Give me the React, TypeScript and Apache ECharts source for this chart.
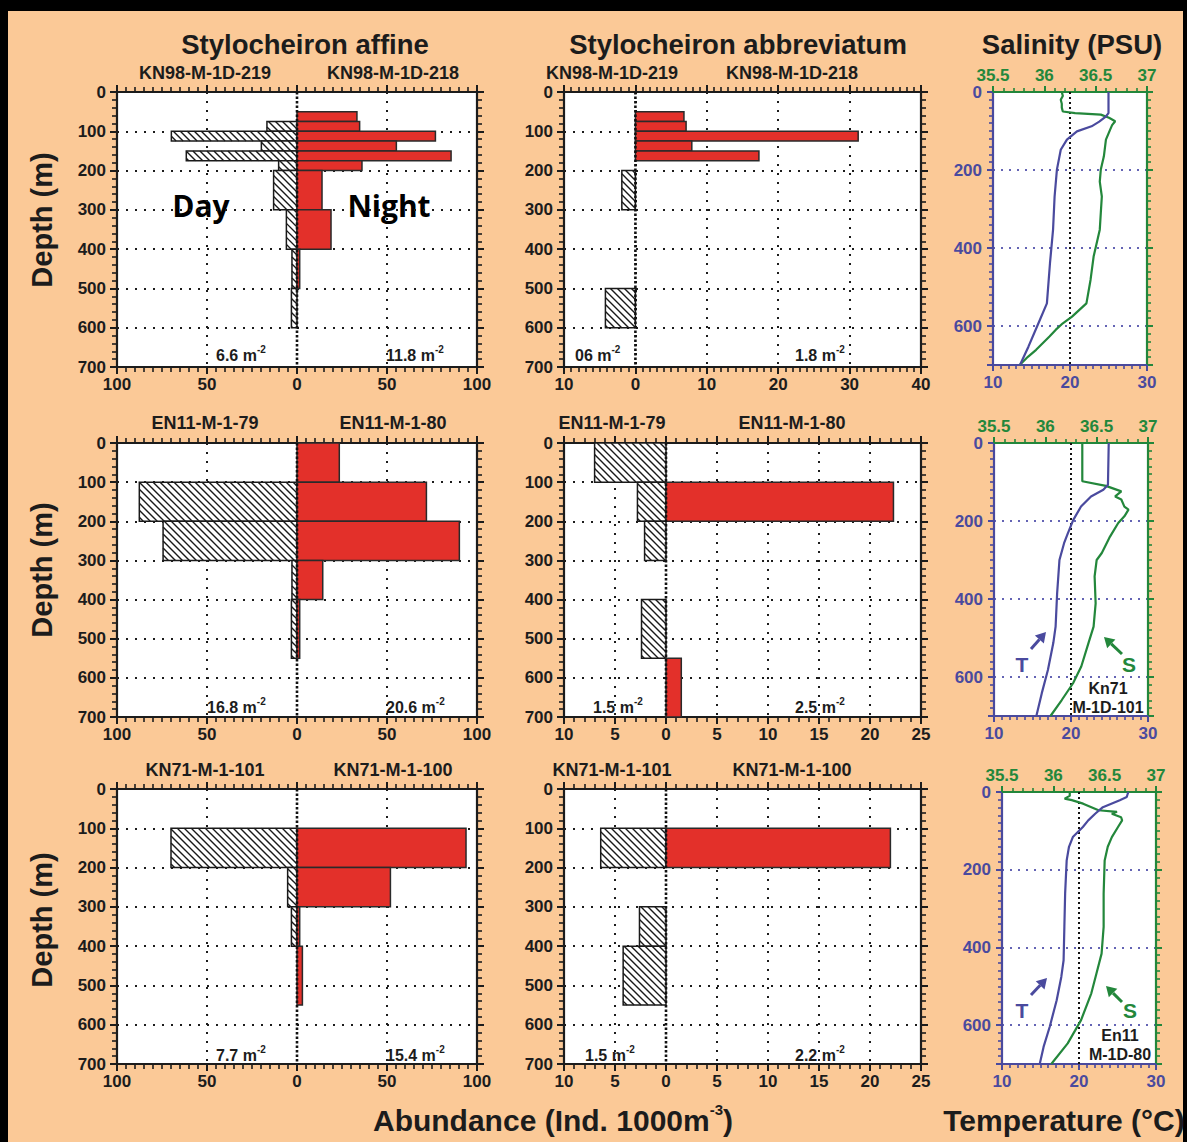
import React, { useEffect, useRef } from 'react';
import * as echarts from 'echarts';

const FONT = 'Liberation Sans, Arial, Helvetica, sans-serif';
const INK = '#1c1c1c';
const RED = '#E3302A';
const BLUE = '#4a4a9e';
const GREEN = '#23873b';
const PEACH = '#FBC997';

type Bin = [number, number, number]; // [top depth, bottom depth, abundance]

// ---------- Abundance data (Ind. 1000 m^-3) ----------
// Stylocheiron affine, KN98 (day 219 / night 218)
const affineKN98Day: Bin[] = [[75, 100, 16.7], [100, 125, 69.8], [125, 150, 19.8], [150, 175, 61.5], [175, 200, 10.2], [200, 300, 13], [300, 400, 5.9], [400, 500, 2.8], [500, 600, 3.1]];
const affineKN98Night: Bin[] = [[50, 75, 33.3], [75, 100, 34.8], [100, 125, 76.9], [125, 150, 55.2], [150, 175, 85.6], [175, 200, 36.1], [200, 300, 13.9], [300, 400, 18.9], [400, 500, 1.5]];
// Stylocheiron abbreviatum, KN98
const abbrevKN98Day: Bin[] = [[200, 300, 1.9], [500, 600, 4.2]];
const abbrevKN98Night: Bin[] = [[50, 75, 6.8], [75, 100, 7.1], [100, 125, 31.2], [125, 150, 7.9], [150, 175, 17.3]];
// Stylocheiron affine, EN11 (day 79 / night 80)
const affineEN11Day: Bin[] = [[100, 200, 87.6], [200, 300, 74.4], [300, 400, 2.8], [400, 550, 3.1]];
const affineEN11Night: Bin[] = [[0, 100, 23.5], [100, 200, 71.9], [200, 300, 90.2], [300, 400, 14.3], [400, 550, 1.5]];
// Stylocheiron abbreviatum, EN11
const abbrevEN11Day: Bin[] = [[0, 100, 7.0], [100, 200, 2.8], [200, 300, 2.1], [400, 550, 2.4]];
const abbrevEN11Night: Bin[] = [[100, 200, 22.3], [550, 700, 1.5]];
// Stylocheiron affine, KN71 (day 101 / night 100)
const affineKN71Day: Bin[] = [[100, 200, 70], [200, 300, 5.2], [300, 400, 3.1]];
const affineKN71Night: Bin[] = [[100, 200, 93.9], [200, 300, 51.9], [300, 400, 1.5], [400, 550, 3.0]];
// Stylocheiron abbreviatum, KN71
const abbrevKN71Day: Bin[] = [[100, 200, 6.4], [300, 400, 2.6], [400, 550, 4.2]];
const abbrevKN71Night: Bin[] = [[100, 200, 22.0]];

// ---------- Hydrography profiles ----------
const kn98TDepth = [0, 54, 64, 76, 88, 101, 122, 148, 199, 268, 353, 439, 542, 593, 653, 700];
const kn98Temp = [25.0, 25.0, 24.6, 23.8, 22.8, 20.9, 19.6, 18.8, 18.3, 18.0, 17.8, 17.4, 17.0, 15.9, 14.6, 13.5];
const kn98SDepth = [0, 10, 20, 30, 40, 50, 54, 58, 66, 75, 85, 97, 122, 165, 199, 230, 268, 310, 353, 422, 482, 542, 576, 593, 610, 627, 661, 679, 700];
const kn98Sal = [36.17, 36.18, 36.16, 36.17, 36.17, 36.18, 36.30, 36.55, 36.63, 36.69, 36.66, 36.64, 36.60, 36.58, 36.55, 36.54, 36.56, 36.55, 36.54, 36.48, 36.45, 36.41, 36.27, 36.18, 36.11, 36.05, 35.92, 35.84, 35.76];

const kn71TDepth = [0, 107, 120, 137, 163, 197, 231, 257, 300, 385, 471, 513, 582, 642, 700];
const kn71Temp = [24.9, 24.8, 24.2, 22.6, 21.3, 20.3, 19.6, 19.1, 18.5, 18.2, 18.0, 17.7, 17.0, 16.2, 15.5];
const kn71SDepth = [0, 98, 110, 124, 137, 145, 163, 171, 188, 205, 240, 282, 300, 342, 411, 471, 513, 573, 616, 659, 700];
const kn71Sal = [36.36, 36.36, 36.59, 36.74, 36.68, 36.74, 36.77, 36.81, 36.77, 36.71, 36.63, 36.55, 36.50, 36.48, 36.49, 36.47, 36.42, 36.35, 36.27, 36.16, 36.05];

const en11TDepth = [0, 13, 21, 39, 56, 73, 90, 116, 141, 176, 261, 347, 433, 476, 536, 604, 656, 700];
const en11Temp = [26.4, 26.2, 25.3, 23.1, 22.1, 21.2, 20.5, 19.2, 18.7, 18.4, 18.2, 18.1, 18.0, 17.7, 17.1, 16.2, 15.4, 14.9];
const en11SDepth = [0, 10, 17, 21, 30, 47, 51, 56, 65, 73, 90, 116, 141, 176, 261, 347, 416, 467, 518, 587, 647, 700];
const en11Sal = [36.16, 36.16, 36.11, 36.18, 36.29, 36.44, 36.62, 36.57, 36.66, 36.67, 36.63, 36.57, 36.53, 36.50, 36.49, 36.49, 36.47, 36.42, 36.37, 36.27, 36.14, 35.98];

const refTemp = 20;
const depthRange = [0, 700];

// ---------- Labels ----------
const speciesTitles = ['Stylocheiron affine', 'Stylocheiron abbreviatum'];
const stationDay = ['KN98-M-1D-219', 'EN11-M-1-79', 'KN71-M-1-101'];
const stationNight = ['KN98-M-1D-218', 'EN11-M-1-80', 'KN71-M-1-100'];
const totalsAffine = [['6.6', '11.8'], ['16.8', '20.6'], ['7.7', '15.4']];
const totalsAbbrev = [['06', '1.8'], ['1.5', '2.5'], ['1.5', '2.2']];

interface BarPanel { grid: any; min: number; max: number; interval: number; minor: number; day: Bin[]; night: Bin[]; }
interface ProfPanel { grid: any; tD: number[]; t: number[]; sD: number[]; s: number[]; }

const barPanels: BarPanel[] = [
  { grid: { left: 117, top: 92, width: 360, height: 275 }, min: -100, max: 100, interval: 50, minor: 10, day: affineKN98Day, night: affineKN98Night },
  { grid: { left: 564, top: 92, width: 357, height: 275 }, min: -10, max: 40, interval: 10, minor: 10, day: abbrevKN98Day, night: abbrevKN98Night },
  { grid: { left: 117, top: 443, width: 360, height: 274 }, min: -100, max: 100, interval: 50, minor: 10, day: affineEN11Day, night: affineEN11Night },
  { grid: { left: 564, top: 443, width: 357, height: 274 }, min: -10, max: 25, interval: 5, minor: 5, day: abbrevEN11Day, night: abbrevEN11Night },
  { grid: { left: 117, top: 789, width: 360, height: 275 }, min: -100, max: 100, interval: 50, minor: 10, day: affineKN71Day, night: affineKN71Night },
  { grid: { left: 564, top: 789, width: 357, height: 275 }, min: -10, max: 25, interval: 5, minor: 5, day: abbrevKN71Day, night: abbrevKN71Night },
];

const profPanels: ProfPanel[] = [
  { grid: { left: 993, top: 92, width: 154, height: 273 }, tD: kn98TDepth, t: kn98Temp, sD: kn98SDepth, s: kn98Sal },
  { grid: { left: 994, top: 443, width: 154, height: 273 }, tD: kn71TDepth, t: kn71Temp, sD: kn71SDepth, s: kn71Sal },
  { grid: { left: 1002, top: 792, width: 154, height: 272 }, tD: en11TDepth, t: en11Temp, sD: en11SDepth, s: en11Sal },
];

function barSeries(gi: number, bins: Bin[], day: boolean) {
  return {
    type: 'custom',
    xAxisIndex: 2 * gi,
    yAxisIndex: 2 * gi,
    clip: false,
    encode: { x: 2, y: [0, 1] },
    data: bins.map((b) => [b[0], b[1], day ? -b[2] : b[2]]),
    renderItem: (_params: any, api: any) => {
      const a = api.coord([0, api.value(0)]);
      const b = api.coord([api.value(2), api.value(1)]);
      const x0 = Math.min(a[0], b[0]);
      const x1 = Math.max(a[0], b[0]);
      const y0 = Math.min(a[1], b[1]);
      const y1 = Math.max(a[1], b[1]);
      const shape = { x: x0, y: y0, width: x1 - x0, height: y1 - y0 };
      if (!day) {
        return { type: 'rect', shape, style: { fill: RED, stroke: '#2a2a2a', lineWidth: 1.5 } };
      }
      const children: any[] = [{ type: 'rect', shape, style: { fill: '#ffffff' } }];
      const s = 7;
      for (let k = Math.ceil((y0 - x1) / s); k <= Math.floor((y1 - x0) / s); k++) {
        const c = k * s;
        const xs = Math.max(x0, y0 - c);
        const xe = Math.min(x1, y1 - c);
        if (xe - xs > 0.3) {
          children.push({ type: 'line', shape: { x1: xs, y1: xs + c, x2: xe, y2: xe + c }, style: { stroke: '#1a1a1a', lineWidth: 1.4 } });
        }
      }
      children.push({ type: 'rect', shape, style: { fill: 'none', stroke: '#1a1a1a', lineWidth: 1.5 } });
      return { type: 'group', children };
    },
  };
}

function label(color: string, show: boolean, extra: any = {}) {
  return { show, color, fontSize: 17, fontWeight: 'bold', fontFamily: FONT, ...extra };
}

function buildOption() {
  const grid: any[] = [];
  const xAxis: any[] = [];
  const yAxis: any[] = [];
  const series: any[] = [];
  const dotted = [2, 7];

  barPanels.forEach((p) => {
    const gi = grid.length;
    grid.push({ ...p.grid, show: true, backgroundColor: '#ffffff', borderWidth: 0, containLabel: false, outerBoundsMode: 'none' });
    ['bottom', 'top'].forEach((pos) => {
      xAxis.push({
        type: 'value', gridIndex: gi, position: pos, min: p.min, max: p.max, interval: p.interval,
        axisLine: { show: true, onZero: false, lineStyle: { color: INK, width: 2.2 } },
        axisTick: { show: true, inside: false, length: 7, lineStyle: { color: INK, width: 2 } },
        minorTick: { show: true, splitNumber: p.minor, length: 5, lineStyle: { color: INK, width: 1.6 } },
        axisLabel: label(INK, pos === 'bottom', { margin: 9, formatter: (v: number) => String(Math.abs(v)) }),
        splitLine: { show: pos === 'bottom', showMinLine: false, showMaxLine: false, lineStyle: { color: INK, width: 2, type: dotted } },
      });
    });
    ['left', 'right'].forEach((pos) => {
      yAxis.push({
        type: 'value', gridIndex: gi, position: pos, inverse: true, min: depthRange[0], max: depthRange[1], interval: 100,
        axisLine: { show: true, onZero: false, lineStyle: { color: INK, width: 2.2 } },
        axisTick: { show: true, inside: false, length: 7, lineStyle: { color: INK, width: 2 } },
        minorTick: { show: true, splitNumber: 5, length: 5, lineStyle: { color: INK, width: 1.6 } },
        axisLabel: label(INK, pos === 'left', { margin: 11 }),
        splitLine: { show: pos === 'left', showMinLine: false, showMaxLine: false, lineStyle: { color: INK, width: 2, type: dotted } },
      });
    });
    series.push({
      type: 'line', xAxisIndex: 2 * gi, yAxisIndex: 2 * gi, symbol: 'none', silent: true,
      data: [[0, depthRange[0]], [0, depthRange[1]]],
      lineStyle: { color: '#111', width: 2.6, type: [2.5, 2] },
    });
    series.push(barSeries(gi, p.day, true));
    series.push(barSeries(gi, p.night, false));
  });

  profPanels.forEach((p) => {
    const gi = grid.length;
    grid.push({ ...p.grid, show: true, backgroundColor: '#ffffff', borderWidth: 0, containLabel: false, outerBoundsMode: 'none' });
    xAxis.push({
      type: 'value', gridIndex: gi, position: 'bottom', min: 10, max: 30, interval: 10,
      axisLine: { show: true, onZero: false, lineStyle: { color: BLUE, width: 2.2 } },
      axisTick: { show: true, length: 6, lineStyle: { color: BLUE, width: 2 } },
      minorTick: { show: true, splitNumber: 10, length: 4, lineStyle: { color: BLUE, width: 1.6 } },
      axisLabel: label(BLUE, true, { margin: 9 }),
      splitLine: { show: false },
    });
    xAxis.push({
      type: 'value', gridIndex: gi, position: 'top', min: 35.5, max: 37, interval: 0.5,
      axisLine: { show: true, onZero: false, lineStyle: { color: GREEN, width: 2.2 } },
      axisTick: { show: true, length: 6, lineStyle: { color: GREEN, width: 2 } },
      minorTick: { show: true, splitNumber: 5, length: 4, lineStyle: { color: GREEN, width: 1.6 } },
      axisLabel: label(GREEN, true, { margin: 8 }),
      splitLine: { show: false },
    });
    yAxis.push({
      type: 'value', gridIndex: gi, position: 'left', inverse: true, min: depthRange[0], max: depthRange[1], interval: 200,
      axisLine: { show: true, onZero: false, lineStyle: { color: BLUE, width: 2.2 } },
      axisTick: { show: true, length: 6, lineStyle: { color: BLUE, width: 2 } },
      minorTick: { show: true, splitNumber: 10, length: 4, lineStyle: { color: BLUE, width: 1.6 } },
      axisLabel: label(BLUE, true, { margin: 11, showMaxLabel: false }),
      splitLine: { show: true, showMinLine: false, showMaxLine: false, lineStyle: { color: '#6464b4', width: 2, type: [2, 6] } },
    });
    yAxis.push({
      type: 'value', gridIndex: gi, position: 'right', inverse: true, min: depthRange[0], max: depthRange[1], interval: 200,
      axisLine: { show: true, onZero: false, lineStyle: { color: GREEN, width: 2.2 } },
      axisTick: { show: true, length: 6, lineStyle: { color: GREEN, width: 2 } },
      minorTick: { show: true, splitNumber: 10, length: 4, lineStyle: { color: GREEN, width: 1.6 } },
      axisLabel: { show: false },
      splitLine: { show: false },
    });
    series.push({
      type: 'line', xAxisIndex: 2 * gi, yAxisIndex: 2 * gi, symbol: 'none', silent: true,
      data: [[refTemp, depthRange[0]], [refTemp, depthRange[1]]],
      lineStyle: { color: '#111', width: 2, type: [2, 3] },
    });
    series.push({
      type: 'line', xAxisIndex: 2 * gi + 1, yAxisIndex: 2 * gi, symbol: 'none', silent: true,
      data: p.s.map((v, i) => [v, p.sD[i]]),
      lineStyle: { color: GREEN, width: 2.2 },
    });
    series.push({
      type: 'line', xAxisIndex: 2 * gi, yAxisIndex: 2 * gi, symbol: 'none', silent: true,
      data: p.t.map((v, i) => [v, p.tD[i]]),
      lineStyle: { color: BLUE, width: 2.2 },
    });
  });

  const graphic: any[] = [];
  const txt = (text: string, x: number, y: number, size: number, extra: any = {}, elExtra: any = {}) => {
    graphic.push({
      type: 'text', x, y, silent: true, ...elExtra,
      style: { text, fill: INK, fontSize: size, fontWeight: 'bold', fontFamily: FONT, align: 'center', verticalAlign: 'middle', ...extra },
    });
  };

  txt(speciesTitles[0], 305, 44, 27.5);
  txt(speciesTitles[1], 738, 44, 27.5);
  txt('Salinity (PSU)', 1072, 44, 27.5);

  const rowY = [73, 423, 770];
  rowY.forEach((y, r) => {
    txt(stationDay[r], 205, y, 18);
    txt(stationNight[r], 393, y, 18);
    txt(stationDay[r], 612, y, 18);
    txt(stationNight[r], 792, y, 18);
  });

  const depthY = [220, 570, 920];
  depthY.forEach((y) => txt('Depth (m)', 42, y, 29, {}, { rotation: Math.PI / 2 }));

  const supRich = {
    a: { fontSize: 16, fontWeight: 'bold', fontFamily: FONT, fill: INK, lineHeight: 22 },
    b: { fontSize: 10, fontWeight: 'bold', fontFamily: FONT, fill: INK, verticalAlign: 'top' },
  };
  const totalY = [355, 707, 1055];
  const totalAffX = [[216, 386], [207, 386], [216, 386]];
  const totalAbbX = [[575, 795], [593, 795], [585, 795]];
  totalY.forEach((y, r) => {
    txt(`{a|${totalsAffine[r][0]} m}{b|-2}`, totalAffX[r][0], y, 16, { align: 'left', rich: supRich });
    txt(`{a|${totalsAffine[r][1]} m}{b|-2}`, totalAffX[r][1], y, 16, { align: 'left', rich: supRich });
    txt(`{a|${totalsAbbrev[r][0]} m}{b|-2}`, totalAbbX[r][0], y, 16, { align: 'left', rich: supRich });
    txt(`{a|${totalsAbbrev[r][1]} m}{b|-2}`, totalAbbX[r][1], y, 16, { align: 'left', rich: supRich });
  });

  txt('Day', 201, 205, 30, { fontFamily: 'Open Sans, sans-serif', fill: '#000' });
  txt('Night', 389, 205, 30, { fontFamily: 'Open Sans, sans-serif', fill: '#000' });

  const bigRich = {
    a: { fontSize: 30, fontWeight: 'bold', fontFamily: FONT, fill: INK, lineHeight: 36 },
    b: { fontSize: 15, fontWeight: 'bold', fontFamily: FONT, fill: INK, verticalAlign: 'top' },
  };
  txt('{a|Abundance (Ind. 1000m}{b|-3}{a|)}', 553, 1120, 30, { rich: bigRich });
  txt('Temperature (°C)', 1064, 1120, 30);

  // T / S annotations
  const arrow = (tail: number[], tip: number[], color: string) => {
    const dx = tip[0] - tail[0];
    const dy = tip[1] - tail[1];
    const len = Math.hypot(dx, dy);
    const ux = dx / len;
    const uy = dy / len;
    const hl = 10;
    const hw = 6;
    const bx = tip[0] - ux * hl;
    const by = tip[1] - uy * hl;
    graphic.push({ type: 'line', silent: true, shape: { x1: tail[0], y1: tail[1], x2: bx, y2: by }, style: { stroke: color, lineWidth: 3 } });
    graphic.push({
      type: 'polygon', silent: true,
      shape: { points: [[tip[0], tip[1]], [bx - uy * hw, by + ux * hw], [bx + uy * hw, by - ux * hw]] },
      style: { fill: color },
    });
  };
  arrow([1031, 649], [1046, 632], BLUE);
  arrow([1122, 654], [1104, 637], GREEN);
  arrow([1031, 995], [1047, 978], BLUE);
  arrow([1122, 1002], [1106, 986], GREEN);
  txt('T', 1022, 664, 21, { fill: BLUE });
  txt('S', 1129, 664, 21, { fill: GREEN });
  txt('T', 1022, 1010, 21, { fill: BLUE });
  txt('S', 1130, 1010, 21, { fill: GREEN });
  txt('Kn71', 1108, 688, 16);
  txt('M-1D-101', 1108, 707, 16);
  txt('En11', 1120, 1035, 16);
  txt('M-1D-80', 1120, 1054, 16);

  return { animation: false, grid, xAxis, yAxis, series, graphic };
}

export default function App() {
  const ref = useRef<HTMLDivElement>(null);
  useEffect(() => {
    const chart = echarts.init(ref.current as HTMLDivElement, undefined, { renderer: 'svg' });
    chart.setOption(buildOption() as any);
    return () => chart.dispose();
  }, []);
  return (
    <div style={{ position: 'fixed', left: 0, top: 0, width: 1187, height: 1142, background: '#000' }}>
      <div style={{ position: 'absolute', left: 8, top: 11, width: 1175, height: 1131, background: PEACH }} />
      <div ref={ref} style={{ position: 'absolute', left: 0, top: 0, width: 1187, height: 1142 }} />
    </div>
  );
}
